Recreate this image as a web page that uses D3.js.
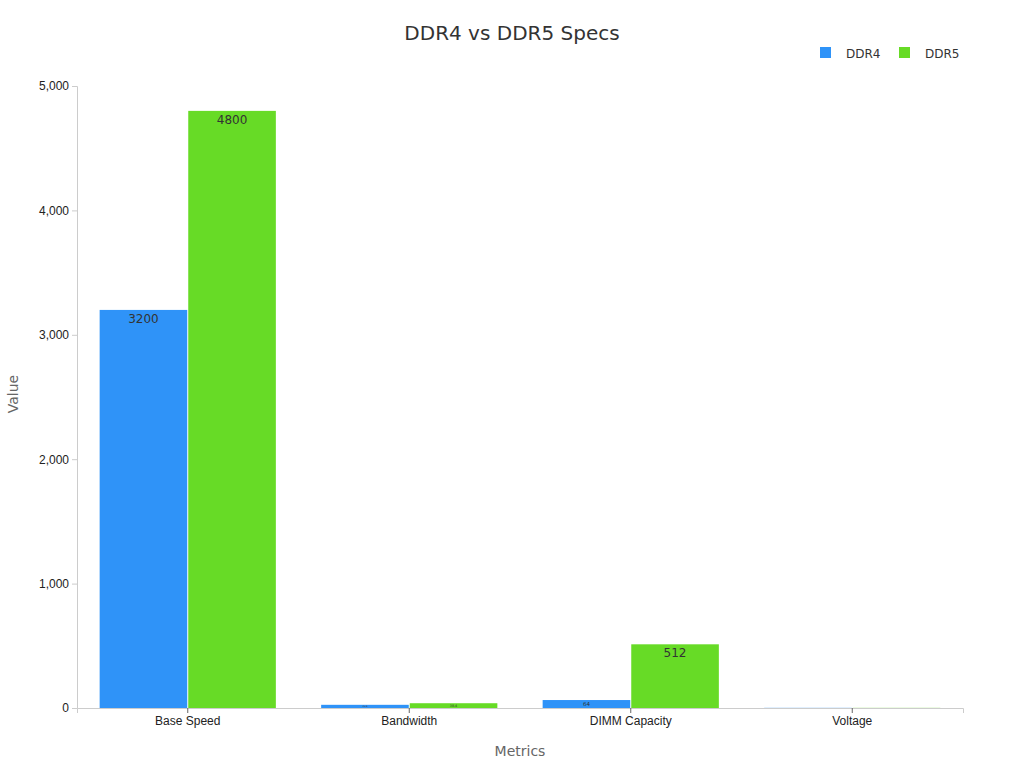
<!DOCTYPE html><html><head><meta charset="utf-8"><script src="https://cdn.jsdelivr.net/npm/d3@7"></script>
<style>body{margin:0;background:#fff;font-family:"DejaVu Sans",sans-serif}</style></head><body><svg width="1024" height="768"></svg>
<script>
const categories=["Base Speed","Bandwidth","DIMM Capacity","Voltage"];
const seriesNames=["DDR4","DDR5"];
const ddr4=[3200,25.6,64,1.2];
const ddr5=[4800,38.4,512,1.1];
const colors=["#2f93f8","#67db26"];
const yTicks=[0,1000,2000,3000,4000,5000];
const svg=d3.select("svg");
const m={l:77,r:963,t:86,b:708};
const x=d3.scaleBand().domain(categories).range([m.l,m.r]).paddingInner(0.2).paddingOuter(0.1);
const x1=d3.scaleBand().domain(seriesNames).range([0,x.bandwidth()]);
const y=d3.scaleLinear().domain([0,5000]).range([m.b,m.t]);
svg.append("text").attr("x",512).attr("y",40).attr("text-anchor","middle").attr("font-size",20).attr("fill","#333").text("DDR4 vs DDR5 Specs");
const ya=svg.append("g").attr("transform",`translate(${m.l},0)`).call(d3.axisLeft(y).tickValues(yTicks).tickSize(5));
const xa=svg.append("g").attr("transform",`translate(0,${m.b})`).call(d3.axisBottom(x).tickSize(5));
[ya,xa].forEach(a=>{a.selectAll("path,line").attr("stroke","#ccc");a.selectAll("text").attr("font-size",12).attr("fill","#222");});
xa.selectAll("line").attr("stroke","#666");
const data=[ddr4,ddr5];
data.forEach((vals,si)=>{
 const g=svg.append("g");
 categories.forEach((c,i)=>{
  const v=vals[i],bx=x(c)+x1(seriesNames[si]),bw=x1.bandwidth(),h=m.b-y(v);
  g.append("rect").attr("x",bx+0.5).attr("y",y(v)).attr("width",bw-1).attr("height",h).attr("fill",colors[si]);
  const fs=Math.min(12,h*0.7);
  if(fs>=2) g.append("text").attr("x",bx+bw/2).attr("y",y(v)+Math.min(13,h*0.8)).attr("text-anchor","middle").attr("font-size",fs).attr("fill","#333").text(v);
 });
});
svg.append("text").attr("x",520).attr("y",756).attr("text-anchor","middle").attr("font-size",14).attr("fill","#666").text("Metrics");
svg.append("text").attr("transform","translate(18,394) rotate(-90)").attr("text-anchor","middle").attr("font-size",14).attr("fill","#666").text("Value");
const lx=[820,899];
seriesNames.forEach((s,i)=>{
 svg.append("rect").attr("x",lx[i]).attr("y",47).attr("width",11).attr("height",11).attr("fill",colors[i]);
 svg.append("text").attr("x",lx[i]+26).attr("y",58).attr("font-size",12).attr("fill","#333").text(s);
});
</script></body></html>
